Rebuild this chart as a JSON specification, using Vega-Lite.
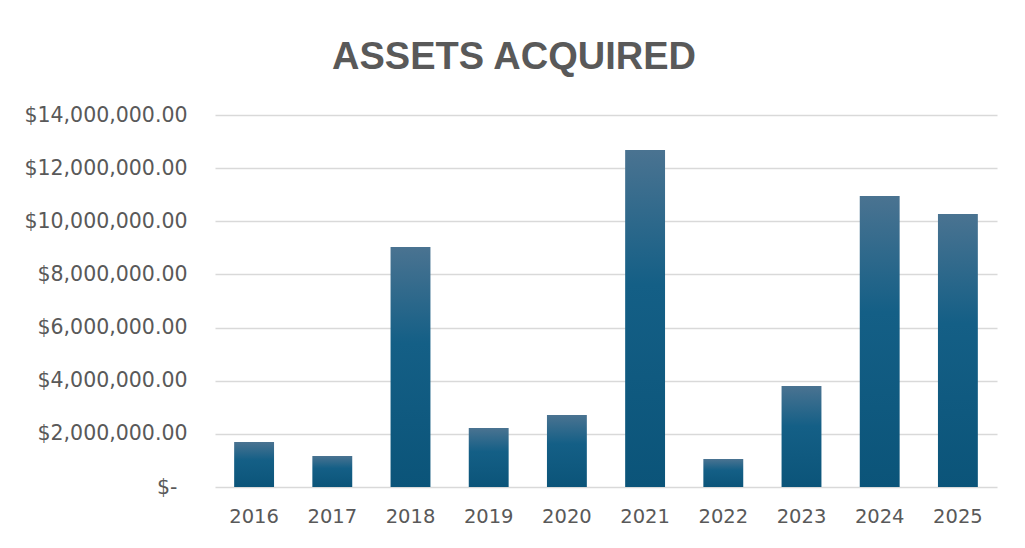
{
  "$schema": "https://vega.github.io/schema/vega-lite/v6.json",
  "autosize": "none",
  "width": 782,
  "height": 372,
  "padding": {"left": 215, "top": 115, "right": 28, "bottom": 61},
  "background": "white",
  "title": {
    "text": "ASSETS ACQUIRED",
    "font": "Liberation Sans",
    "fontSize": 38,
    "fontWeight": "bold",
    "color": "#595959",
    "anchor": "middle",
    "dx": -92,
    "offset": 28
  },
  "config": {"view": {"stroke": null}},
  "data": {
    "values": [
      {"year": "2016", "value": 1690000},
      {"year": "2017", "value": 1170000},
      {"year": "2018", "value": 9030000},
      {"year": "2019", "value": 2220000},
      {"year": "2020", "value": 2710000},
      {"year": "2021", "value": 12680000},
      {"year": "2022", "value": 1050000},
      {"year": "2023", "value": 3800000},
      {"year": "2024", "value": 10950000},
      {"year": "2025", "value": 10270000}
    ]
  },
  "mark": {
    "type": "bar",
    "color": {
      "gradient": "linear",
      "x1": 0, "y1": 0, "x2": 0, "y2": 1,
      "stops": [
        {"offset": 0, "color": "#4a7391"},
        {"offset": 0.4, "color": "#145f86"},
        {"offset": 1, "color": "#0b5479"}
      ]
    }
  },
  "encoding": {
    "x": {
      "field": "year",
      "type": "ordinal",
      "scale": {"paddingInner": 0.49, "paddingOuter": 0.245},
      "axis": {
        "title": null,
        "labelAngle": 0,
        "labelFont": "DejaVu Sans",
        "labelFontSize": 19.5,
        "labelColor": "#595959",
        "labelPadding": 20,
        "ticks": false,
        "domain": false
      }
    },
    "y": {
      "field": "value",
      "type": "quantitative",
      "scale": {"domain": [0, 14000000]},
      "axis": {
        "title": null,
        "values": [0, 2000000, 4000000, 6000000, 8000000, 10000000, 12000000, 14000000],
        "labelExpr": "datum.value == 0 ? '$-' : format(datum.value, '$,.2f')",
        "labelFont": "DejaVu Sans",
        "labelFontSize": 20.5,
        "labelColor": "#595959",
        "labelPadding": {"condition": {"test": "datum.value == 0", "value": 38}, "value": 28},
        "ticks": false,
        "domain": false,
        "grid": true,
        "gridColor": "#d9d9d9",
        "gridWidth": 1.5
      }
    }
  }
}
